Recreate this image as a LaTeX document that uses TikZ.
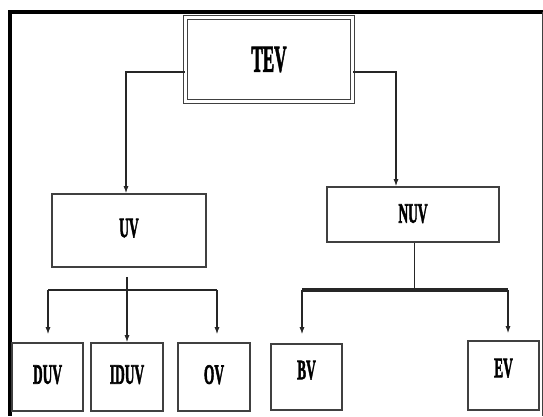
\documentclass[tikz,border=0pt]{standalone}
\usepackage{fontspec}
\usepackage{graphicx}
\setmainfont{Liberation Serif}
\newfontfamily\lblfont[FakeBold=2.5]{Liberation Serif}
\usetikzlibrary{arrows.meta}
\begin{document}
\begin{tikzpicture}[x=1pt,y=-1pt,
  box/.style={draw=black!75, line width=1.6pt, inner sep=0pt, fill=white,
    font=\lblfont\bfseries\fontsize{28}{28}\selectfont},
  conn/.style={draw=black!85, line width=1.2pt},
  arr/.style={conn, -{Latex[length=7pt,width=5pt]}}]
\useasboundingbox (0,0) rectangle (543,416);
% frame
\draw[line width=4pt] (10,10.5) -- (10,416);
\draw[line width=3.5pt] (8,12) -- (543,12);
\draw[line width=1pt, black!75] (542,12) -- (542,416);
% nodes
\node[box, double, line width=1.3pt, double distance=2.4pt, minimum width=167pt, minimum height=84pt,
  font=\lblfont\bfseries\fontsize{38}{38}\selectfont] (tev) at (269,59.5) {\scalebox{0.45}[1]{TEV}};
\node[box, minimum width=154pt, minimum height=73pt] (uv) at (129,230.5) {\raisebox{5pt}{\scalebox{0.48}[1]{UV}}};
\node[box, minimum width=172pt, minimum height=55pt] (nuv) at (413,214.5) {\raisebox{2pt}{\scalebox{0.48}[1]{NUV}}};
\node[box, minimum width=71pt, minimum height=68pt] (duv) at (47.5,377) {\raisebox{5pt}{\scalebox{0.48}[1]{DUV}}};
\node[box, minimum width=72pt, minimum height=68pt] (iduv) at (127,377) {\raisebox{5pt}{\scalebox{0.48}[1]{IDUV}}};
\node[box, minimum width=72pt, minimum height=68pt] (ov) at (214,377) {\raisebox{5pt}{\scalebox{0.48}[1]{OV}}};
\node[box, minimum width=71pt, minimum height=66pt] (bv) at (306.5,377) {\raisebox{14pt}{\scalebox{0.48}[1]{BV}}};
\node[box, minimum width=71pt, minimum height=69pt] (ev) at (503.5,375.5) {\raisebox{15pt}{\scalebox{0.48}[1]{EV}}};
% junction coordinates
\coordinate (tl) at (126,72);
\coordinate (tr) at (396,72);
\coordinate (uj) at (127,290);
\coordinate (nj) at (414,290);
\coordinate (ul) at (48,290);
\coordinate (ur) at (217,290);
\coordinate (nl) at (302,290);
\coordinate (nr) at (508,290);
% connectors
\draw[arr] (tev.west |- tl) -- (tl) -- (uv.north -| tl);
\draw[arr] (tev.east |- tr) -- (tr) -- (nuv.north -| tr);
\draw[conn] (ul) -- (ur);
\draw[arr] (uv.south -| uj) ++(0,9) -- (iduv.north -| uj);
\draw[arr] (ul) -- ([yshift=8pt]duv.north -| ul);
\draw[arr] (ur) -- ([yshift=8pt]ov.north -| ur);
\draw[conn, line width=0.8pt] (nuv.south -| nj) -- (nj);
\draw[conn, line width=3.5pt] (nl) -- (nr);
\draw[arr] (nl) -- ([yshift=9pt]bv.north -| nl);
\draw[arr] (nr) -- ([yshift=7pt]ev.north -| nr);
\end{tikzpicture}
\end{document}
